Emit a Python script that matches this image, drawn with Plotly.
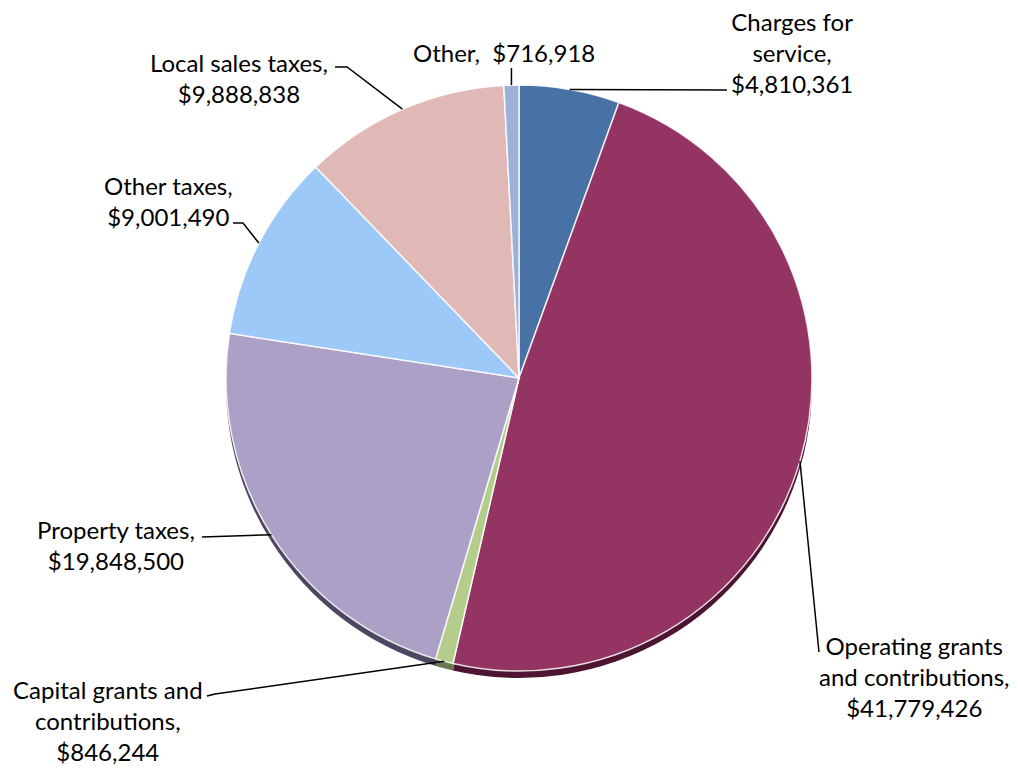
import math
import plotly.graph_objects as go

W, H = 1018, 770

# Revenue sources, clockwise from 12 o'clock
categories = [
    "Charges for service",
    "Operating grants and contributions",
    "Capital grants and contributions",
    "Property taxes",
    "Other taxes",
    "Local sales taxes",
    "Other",
]
values = [4810361, 41779426, 846244, 19848500, 9001490, 9888838, 716918]
label_lines = [
    ["Charges for", "service,"],
    ["Operating grants", "and contributions,"],
    ["Capital grants and", "contributions,"],
    ["Property taxes,"],
    ["Other taxes,"],
    ["Local sales taxes,"],
    ["Other, "],
]
colors = ["#4872A6", "#943462", "#B4CD8D", "#ADA0C6", "#9CC9F7", "#E0B8B5", "#9DB1D6"]
shadow_colors = ["#2A4466", "#4E1532", "#6A7A50", "#4E4762", "#5A7690", "#7A5E5C", "#5A6680"]

# Pie geometry in pixels
CX, CY, R = 519, 378, 293
SHADOW_DY = 7


def px_to_paper(x, y):
    return x / W, 1 - y / H


def domain(cx, cy, r):
    x0, y0 = px_to_paper(cx - r, cy + r)
    x1, y1 = px_to_paper(cx + r, cy - r)
    return dict(x=[x0, x1], y=[y0, y1])


def money(v):
    return "${:,}".format(v)


fig = go.Figure()

# Thickness / shadow under the pie
fig.add_trace(go.Pie(
    labels=categories, values=values, sort=False, direction="clockwise", rotation=0,
    marker=dict(colors=shadow_colors, line=dict(color="#3A3040", width=0)),
    textinfo="none", hoverinfo="skip", showlegend=False,
    domain=domain(CX, CY + SHADOW_DY, R),
))

fig.add_trace(go.Pie(
    labels=categories, values=values, sort=False, direction="clockwise", rotation=0,
    marker=dict(colors=colors, line=dict(color="rgba(255,255,255,0.85)", width=1.5)),
    textinfo="none", showlegend=False,
    domain=domain(CX, CY, R),
))

# Mid-angle anchor of each slice on the rim
total = float(sum(values))
anchors = []
cum = 0.0
for v in values:
    mid = (cum + v / 2) / total * 2 * math.pi
    anchors.append((CX + R * math.sin(mid), CY - R * math.cos(mid)))
    cum += v

# Label block centres and leader-line elbows (pixels)
label_pos = [
    (792, 53),
    (914, 676),
    (108, 720),
    (116, 545),
    (168, 201),
    (239, 78),
    (504, 53),
]
leader_paths = [
    [(727, 90)],
    [(819, 652)],
    [(215, 694), (207, 696)],
    [(202, 537)],
    [(243, 223), (233, 223)],
    [(347, 67), (335, 67)],
    None,
]

font = dict(family="Lato, 'Open Sans', sans-serif", size=24, color="#000000")

shapes = []
for i, v in enumerate(values):
    lines = label_lines[i]
    if i == len(values) - 1:
        text = lines[0] + " " + money(v)
    else:
        text = "<br>".join(lines + [money(v)])
    lx, ly = label_pos[i]
    px, py = px_to_paper(lx, ly)
    fig.add_annotation(x=px, y=py, xref="paper", yref="paper", text=text,
                       showarrow=False, font=font, align="center",
                       xanchor="center", yanchor="middle")

    ax, ay = anchors[i]
    if leader_paths[i] is None:
        pts = [(ax, ay), (ax, 68)]
    else:
        pts = [(ax, ay)] + leader_paths[i]
    path = "M " + " L ".join("{:.4f},{:.4f}".format(*px_to_paper(x, y)) for x, y in pts)
    shapes.append(dict(type="path", path=path, xref="paper", yref="paper",
                       line=dict(color="#000000", width=1.5)))

fig.update_layout(
    width=W, height=H,
    margin=dict(l=0, r=0, t=0, b=0),
    paper_bgcolor="white", plot_bgcolor="white",
    shapes=shapes,
)

fig.write_html("out.html")
